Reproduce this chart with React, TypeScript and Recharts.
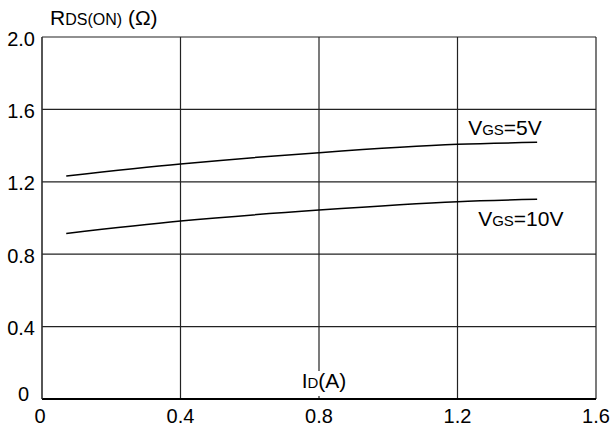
import React from 'react';
import { LineChart, Line, XAxis, YAxis, CartesianGrid } from 'recharts';

// Drain current (A) sample points and on-resistance (Ω) for each gate voltage
const currentA = [0.07, 0.4, 0.8, 1.2, 1.43];
const rdsVgs5 = [1.232, 1.298, 1.361, 1.407, 1.418];
const rdsVgs10 = [0.915, 0.983, 1.044, 1.09, 1.103];

const xTicks = [0, 0.4, 0.8, 1.2, 1.6];
const yTicks = [0, 0.4, 0.8, 1.2, 1.6, 2.0];

const data = currentA.map((id, i) => ({ id, vgs5: rdsVgs5[i], vgs10: rdsVgs10[i] }));

const FONT = "Arial, 'Liberation Sans', sans-serif";

const fmt = (v: number) => (v === 0 ? '0' : v.toFixed(1));

const YTick = (props: any) => {
  const { x, y, payload } = props;
  const zero = payload.value === 0;
  return (
    <text
      x={x + (zero ? -6 : 0)}
      y={y + (zero ? -5 : 1.5)}
      dy="0.355em"
      textAnchor="end"
      fontSize={20}
      fontFamily={FONT}
      fill="#000"
    >
      {fmt(payload.value)}
    </text>
  );
};

const XTick = (props: any) => {
  const { x, y, payload } = props;
  const zero = payload.value === 0;
  return (
    <text
      x={x + (zero ? -2 : 0)}
      y={y}
      dy="0.71em"
      textAnchor="middle"
      fontSize={20}
      fontFamily={FONT}
      fill="#000"
    >
      {fmt(payload.value)}
    </text>
  );
};

// Curve caption "VGS=..." drawn next to the last point of a series
const curveLabel = (rest: string, dx: number, dy: number) => (props: any) => {
  if (props.index !== data.length - 1) return null;
  return (
    <text x={props.x + dx} y={props.y + dy} fontSize={21} fontFamily={FONT} fill="#000">
      <tspan>V</tspan>
      <tspan fontSize={15}>GS</tspan>
      <tspan>{rest}</tspan>
    </text>
  );
};

const YTitle = (props: any) => {
  const vb = props.viewBox || { x: 0, y: 37 };
  return (
    <text x={vb.x + 50} y={vb.y - 12} fontSize={21} fontFamily={FONT} fill="#000">
      <tspan>R</tspan>
      <tspan fontSize={16}>DS(ON)</tspan>
      <tspan> (Ω)</tspan>
    </text>
  );
};

const XTitle = (props: any) => {
  const vb = props.viewBox || { x: 42, y: 399, width: 554 };
  const cx = vb.x + vb.width / 2 + 5;
  const base = vb.y - 11;
  return (
    <g>
      <rect x={cx - 25} y={base - 17} width={50} height={25} fill="#fff" />
      <text x={cx} y={base} textAnchor="middle" fontSize={21} fontFamily={FONT} fill="#000">
        <tspan>I</tspan>
        <tspan fontSize={15}>D</tspan>
        <tspan>(A)</tspan>
      </text>
    </g>
  );
};

export default function App() {
  return (
    <div style={{ position: 'absolute', left: 0, top: 0, width: 611, height: 428, background: '#fff' }}>
      <LineChart
        width={611}
        height={428}
        data={data}
        margin={{ top: 37, right: 15, bottom: 0, left: 0 }}
      >
        <CartesianGrid stroke="#222" strokeWidth={1.2} />
        <XAxis
          dataKey="id"
          type="number"
          domain={[0, 1.6]}
          ticks={xTicks}
          height={29}
          tickLine={false}
          tickSize={6}
          tickMargin={4}
          axisLine={{ stroke: '#000', strokeWidth: 2 }}
          tick={<XTick />}
          label={{ content: <XTitle /> }}
        />
        <YAxis
          type="number"
          domain={[0, 2]}
          ticks={yTicks}
          width={42}
          tickLine={false}
          tickSize={5}
          tickMargin={2}
          axisLine={{ stroke: '#333', strokeWidth: 1 }}
          tick={<YTick />}
          label={{ content: <YTitle /> }}
        />
        <Line
          dataKey="vgs5"
          type="monotone"
          stroke="#000"
          strokeWidth={1.5}
          dot={false}
          isAnimationActive={false}
          label={curveLabel('=5V', -69, -7)}
        />
        <Line
          dataKey="vgs10"
          type="monotone"
          stroke="#000"
          strokeWidth={1.5}
          dot={false}
          isAnimationActive={false}
          label={curveLabel('=10V', -59, 27)}
        />
      </LineChart>
    </div>
  );
}
